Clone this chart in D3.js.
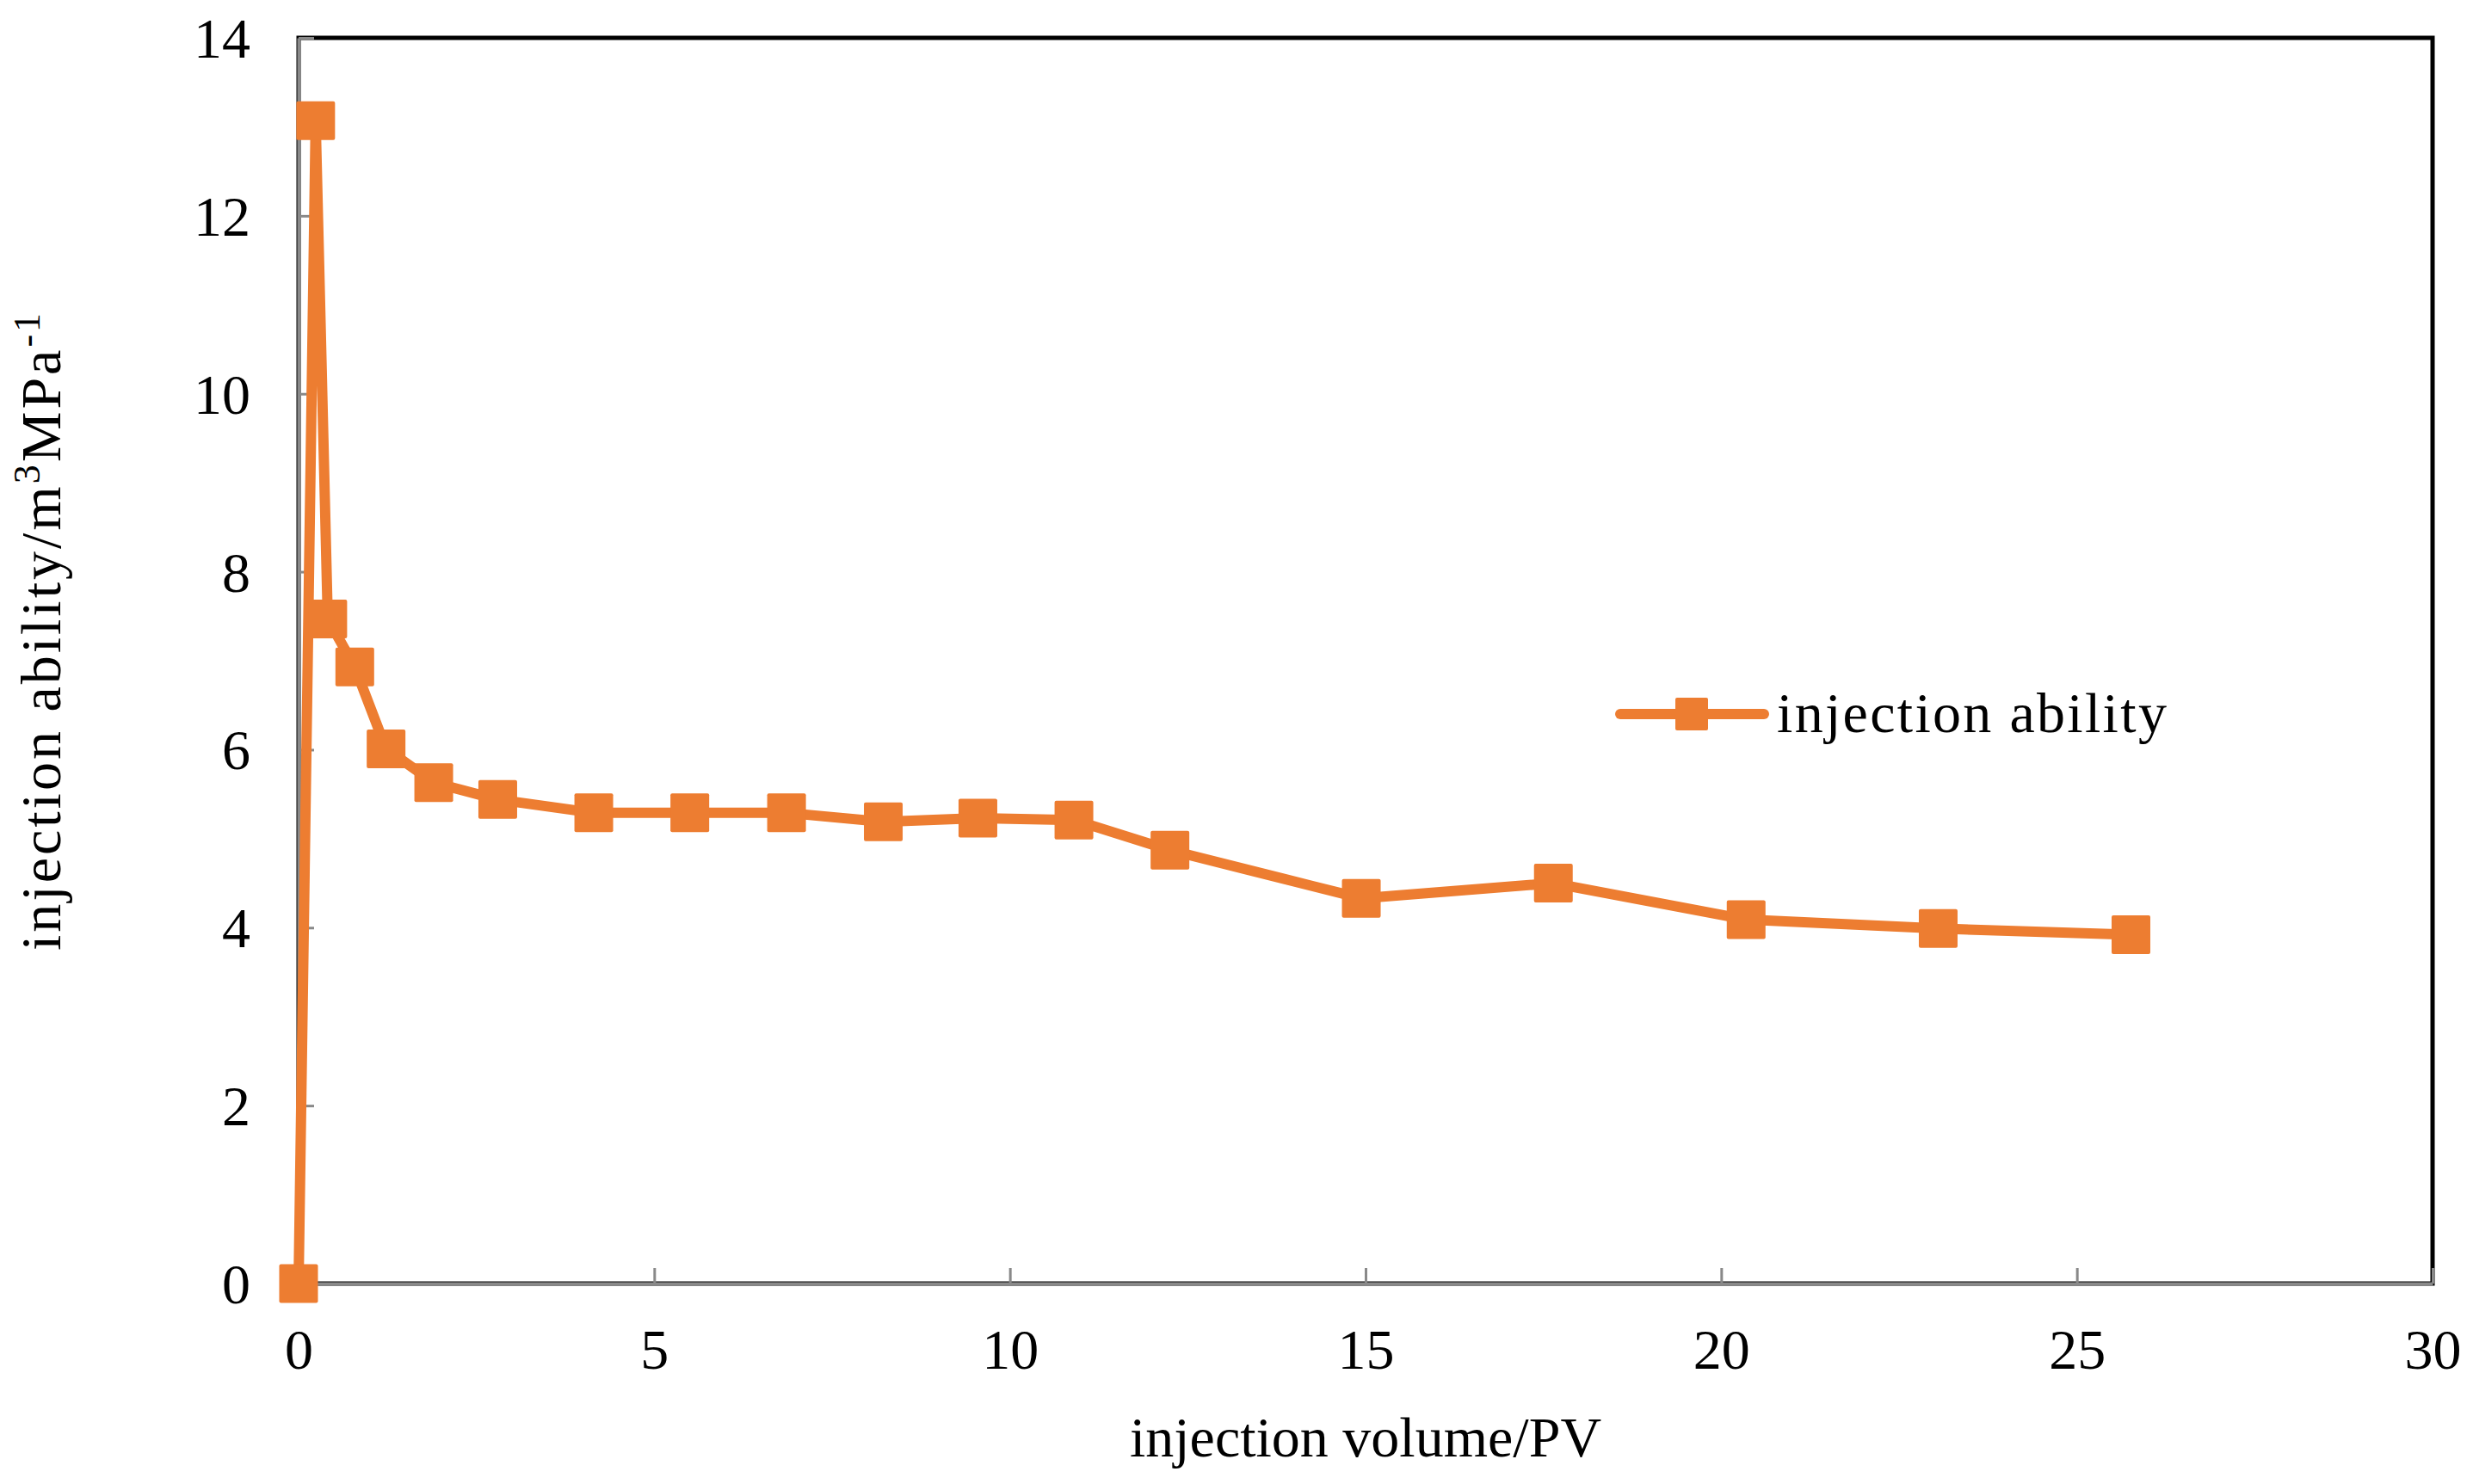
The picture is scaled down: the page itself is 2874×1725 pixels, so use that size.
<!DOCTYPE html>
<html>
<head>
<meta charset="utf-8">
<script src="https://cdn.jsdelivr.net/npm/d3@7/dist/d3.min.js"></script>
<style>
  html, body { margin: 0; padding: 0; background: #fff; }
  svg text { font-family: "Liberation Serif", "DejaVu Serif", serif; fill: #000; }
</style>
</head>
<body>
<svg id="chart" width="2874" height="1725"></svg>
<script>
// injection volume (PV) and injection ability
var injectionVolume = [0, 0.24, 0.41, 0.79, 1.23, 1.90, 2.80, 4.15, 5.50, 6.86, 8.22, 9.55, 10.90, 12.25, 14.94, 17.64, 20.35, 23.05, 25.76];
var injectionAbility = [0, 13.07, 7.47, 6.93, 6.01, 5.63, 5.44, 5.29, 5.29, 5.29, 5.19, 5.23, 5.21, 4.87, 4.33, 4.50, 4.09, 3.99, 3.92];
var xTicks = [0, 5, 10, 15, 20, 25, 30];
var yTicks = [0, 2, 4, 6, 8, 10, 12, 14];
var seriesName = 'injection ability';

(function () {
  var orange = '#ED7D31';
  var axisGray = '#898989';
  var fontSize = 66;
  var markerSize = 45;
  var legendMarkerSize = 38;

  var svg = d3.select('#chart');
  var plotLeft = 347, plotRight = 2827, plotTop = 44, plotBottom = 1492;

  var x = d3.scaleLinear().domain([0, 30]).range([plotLeft, plotRight]);
  var y = d3.scaleLinear().domain([0, 14]).range([plotBottom, plotTop]);

  var points = injectionVolume.map(function (v, i) {
    return { x: v, y: injectionAbility[i] };
  });

  // plot area border
  svg.append('rect')
    .attr('x', plotLeft)
    .attr('y', plotTop)
    .attr('width', plotRight - plotLeft)
    .attr('height', plotBottom - plotTop)
    .attr('fill', 'none')
    .attr('stroke', '#000')
    .attr('stroke-width', 5);

  // x axis (ticks inside)
  var xAxis = svg.append('g')
    .attr('transform', 'translate(0,' + plotBottom + ')')
    .call(d3.axisBottom(x).tickValues(xTicks).tickSize(-18).tickPadding(0).tickSizeOuter(0));
  xAxis.select('.domain').attr('stroke', axisGray).attr('stroke-width', 4);
  xAxis.selectAll('.tick line').attr('stroke', axisGray).attr('stroke-width', 3);
  xAxis.selectAll('.tick text')
    .attr('y', 99)
    .attr('dy', null)
    .attr('font-size', fontSize)
    .style('font-family', '"Liberation Serif", serif');

  // y axis (ticks inside)
  var yAxis = svg.append('g')
    .attr('transform', 'translate(' + plotLeft + ',0)')
    .call(d3.axisLeft(y).tickValues(yTicks).tickSize(-18).tickPadding(0).tickSizeOuter(0));
  yAxis.select('.domain').attr('stroke', axisGray).attr('stroke-width', 4);
  yAxis.selectAll('.tick line').attr('stroke', axisGray).attr('stroke-width', 3);
  yAxis.selectAll('.tick text')
    .attr('x', -56)
    .attr('dy', '0.34em')
    .attr('font-size', fontSize)
    .style('font-family', '"Liberation Serif", serif');

  // line
  var line = d3.line()
    .x(function (d) { return x(d.x); })
    .y(function (d) { return y(d.y); });

  svg.append('path')
    .datum(points)
    .attr('d', line)
    .attr('fill', 'none')
    .attr('stroke', orange)
    .attr('stroke-width', 12)
    .attr('stroke-linejoin', 'round')
    .attr('stroke-linecap', 'round');

  // square markers
  svg.append('g').selectAll('rect')
    .data(points)
    .enter().append('rect')
    .attr('x', function (d) { return x(d.x) - markerSize / 2; })
    .attr('y', function (d) { return y(d.y) - markerSize / 2; })
    .attr('width', markerSize)
    .attr('height', markerSize)
    .attr('rx', 2)
    .attr('fill', orange);

  // legend
  var legend = svg.append('g').attr('transform', 'translate(1883,830)');
  legend.append('line')
    .attr('x1', 0).attr('x2', 167)
    .attr('y1', 0).attr('y2', 0)
    .attr('stroke', orange)
    .attr('stroke-width', 12)
    .attr('stroke-linecap', 'round');
  legend.append('rect')
    .attr('x', 83 - legendMarkerSize / 2)
    .attr('y', -legendMarkerSize / 2)
    .attr('width', legendMarkerSize)
    .attr('height', legendMarkerSize)
    .attr('rx', 2)
    .attr('fill', orange);
  legend.append('text')
    .attr('x', 182)
    .attr('y', 21)
    .attr('font-size', fontSize)
    .attr('letter-spacing', 2.3)
    .text(seriesName);

  // axis titles
  svg.append('text')
    .attr('x', (plotLeft + plotRight) / 2)
    .attr('y', 1693)
    .attr('text-anchor', 'middle')
    .attr('font-size', fontSize)
    .text('injection volume/PV');

  var yTitle = svg.append('text')
    .attr('transform', 'translate(70,733) rotate(-90)')
    .attr('text-anchor', 'middle')
    .attr('letter-spacing', 3)
    .attr('font-size', fontSize);
  yTitle.append('tspan').text('injection ability/m');
  yTitle.append('tspan').attr('dy', -24).attr('font-size', 44).text('3');
  yTitle.append('tspan').attr('dy', 24).text('MPa');
  yTitle.append('tspan').attr('dy', -24).attr('font-size', 44).text('-1');
})();
</script>
</body>
</html>
